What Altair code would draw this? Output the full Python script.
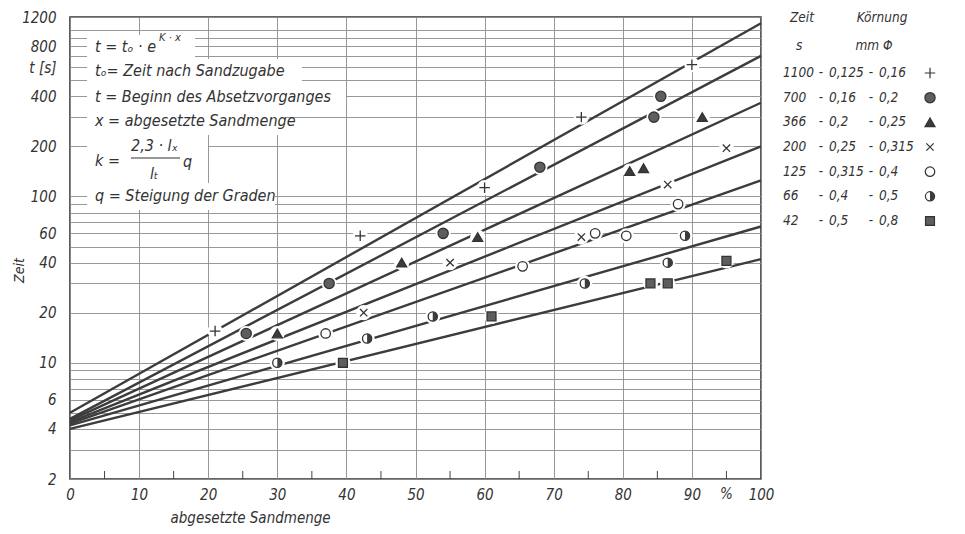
import altair as alt
import pandas as pd

# ---------------- data ----------------
series = ["1100", "700", "366", "200", "125", "66", "42"]
zeit = [1100, 700, 366, 200, 125, 66, 42]
korn_lo = ["0,125", "0,16", "0,2", "0,25", "0,315", "0,4", "0,5"]
korn_hi = ["0,16", "0,2", "0,25", "0,315", "0,4", "0,5", "0,8"]

# regression lines: value at x = 0 and at x = 100
line_t0 = [5.0, 4.6, 4.5, 4.4, 4.3, 4.2, 4.0]
line_t100 = [1100, 700, 366, 200, 125, 66, 42]

# measured points per series
pts_x = {
    "1100": [21, 42, 60, 74, 90],
    "700": [25.5, 37.5, 54, 68, 84.5, 85.5],
    "366": [30, 48, 59, 81, 83, 91.5],
    "200": [42.5, 55, 74, 86.5, 95],
    "125": [37, 65.5, 76, 80.5, 88],
    "66": [30, 43, 52.5, 74.5, 86.5, 89],
    "42": [39.5, 61, 84, 86.5, 95],
}
pts_t = {
    "1100": [15.5, 58, 113, 300, 620],
    "700": [15, 30, 60, 150, 300, 400],
    "366": [15, 40, 57, 142, 148, 300],
    "200": [20, 40, 57, 118, 195],
    "125": [15, 38, 60, 58, 90],
    "66": [10, 14, 19, 30, 40, 58],
    "42": [10, 19, 30, 30, 41],
}

x_ticks = [0, 10, 20, 30, 40, 50, 60, 70, 80, 90, 100]
x_minor = [5, 15, 25, 35, 45, 55, 65, 75, 85, 95]
y_grid = [2, 3, 4, 5, 6, 7, 8, 9, 10, 20, 30, 40, 50, 60, 70, 80, 90,
          100, 200, 300, 400, 500, 600, 700, 800, 900, 1000, 1200]
y_labels = [2, 4, 6, 10, 20, 40, 60, 100, 200, 400, 600, 800, 1200]

# ---------------- tables ----------------
lines_df = pd.DataFrame(
    [{"series": s, "x": 0, "t": a} for s, a in zip(series, line_t0)]
    + [{"series": s, "x": 100, "t": b} for s, b in zip(series, line_t100)]
)
pts_df = pd.DataFrame(
    [{"series": s, "x": x, "t": t} for s in series for x, t in zip(pts_x[s], pts_t[s])]
)
legend_df = pd.DataFrame({
    "row": list(range(len(series))), "series": series,
    "zeit": [str(z) for z in zeit], "lo": korn_lo, "hi": korn_hi,
})

W, H = 691, 462
FONT = "DejaVu Sans Condensed"
INK = "#333333"

xs = alt.Scale(domain=[0, 100], nice=False, zero=False)
ys = alt.Scale(type="log", domain=[2, 1200], nice=False)
rowscale = alt.Scale(domain=[0, 6], range=[56, 204])

PLUS = "M-1,0L1,0M0,-1L0,1"
CROSS = "M-0.75,-0.75L0.75,0.75M0.75,-0.75L-0.75,0.75"
HALF = "M0,-1A1,1,0,0,1,0,1Z"
shape_scale = alt.Scale(domain=series, range=[PLUS, "circle", "triangle-up", CROSS, "circle", "circle", "square"])
fill_scale = alt.Scale(domain=series, range=["transparent", "#5e5e5e", "#3c3c3c", "transparent", "white", "white", "#5e5e5e"])
size_scale = alt.Scale(domain=series, range=[110, 80, 80, 80, 90, 90, 80])

label_list = ",".join(str(v) for v in y_labels)
y_label_expr = (f"indexof([{label_list}], datum.value) >= 0 ? "
                "(datum.value == 600 ? 't [s]' : format(datum.value, 'd')) : ''")

X_ENC = alt.X("x:Q", scale=xs, axis=alt.Axis(
    values=x_ticks, grid=True, ticks=False, domain=False, labelFlush=False,
    labelPadding=8, labelFontSize=15, labelFont=FONT, labelFontStyle="italic",
    labelColor=INK, title="abgesetzte Sandmenge", titleFont=FONT,
    titleFontStyle="italic", titleFontWeight="normal", titleFontSize=15,
    titleColor=INK, titleAnchor="start", titleAlign="left", titleX=100, titleY=31,
    gridColor="#8c8c8c", gridWidth=0.9))

lines = alt.Chart(lines_df).mark_line(color="#3c3c3c", strokeWidth=2.4).encode(
    x=X_ENC,
    y=alt.Y("t:Q", scale=ys, axis=alt.Axis(
        values=y_grid, grid=True, ticks=False, domain=False, labelFlush=False,
        labelOverlap=False, labelExpr=y_label_expr, labelPadding=14,
        labelFontSize=15, labelFont=FONT, labelFontStyle="italic", labelColor=INK,
        title="Zeit", titleFont=FONT, titleFontStyle="italic", titleFontWeight="normal",
        titleFontSize=14, titleColor=INK, titleX=-44, titleY=253,
        gridColor="#8c8c8c", gridWidth=0.9)),
    detail="series:N",
)

halo = alt.Chart(pts_df).mark_point(filled=True, color="white", opacity=1, size=230).encode(
    x=X_ENC, y=alt.Y("t:Q", scale=ys, axis=None))

points = alt.Chart(pts_df).mark_point(opacity=1, strokeWidth=1.3, stroke="#333").encode(
    x=X_ENC, y=alt.Y("t:Q", scale=ys, axis=None),
    shape=alt.Shape("series:N", scale=shape_scale, legend=None),
    fill=alt.Fill("series:N", scale=fill_scale, legend=None),
    size=alt.Size("series:N", scale=size_scale, legend=None),
)
half = alt.Chart(pts_df).transform_filter(alt.datum.series == "66").mark_point(
    shape=HALF, filled=True, color="#3c3c3c", opacity=1, size=90).encode(
    x=X_ENC, y=alt.Y("t:Q", scale=ys, axis=None))

minor = alt.Chart(pd.DataFrame({"x": x_minor})).mark_rule(color="#444", strokeWidth=1).encode(
    x=X_ENC, y=alt.value(H), y2=alt.value(H - 8))

pct = alt.Chart(pd.DataFrame({"x": [95]})).mark_text(
    text="%", font=FONT, fontStyle="italic", fontSize=15, color=INK, baseline="top").encode(
    x=X_ENC, y=alt.value(H + 8))

one = pd.DataFrame({"a": [0]})

def wbox(x1, x2, y1, y2):
    return alt.Chart(one).mark_rect(color="white").encode(
        x=alt.value(x1), x2=alt.value(x2), y=alt.value(y1), y2=alt.value(y2))

def txt(s, x, y, size=16, align="left"):
    return alt.Chart(one).mark_text(text=s, font=FONT, fontStyle="italic", fontSize=size,
                                    color=INK, align=align, baseline="middle").encode(
        x=alt.value(x), y=alt.value(y))

ann = [
    wbox(17, 125, 18, 42), wbox(17, 232, 42, 67), wbox(17, 276, 67, 92),
    wbox(17, 215, 92, 118), wbox(17, 138, 118, 166), wbox(17, 205, 166, 193),
    txt("t = tₒ · e", 25, 30), txt("K · x", 89, 21, size=11),
    txt("tₒ= Zeit nach Sandzugabe", 25, 54),
    txt("t = Beginn des Absetzvorganges", 25, 80),
    txt("x = abgesetzte Sandmenge", 25, 104),
    txt("k =", 25, 144), txt("2,3 · lₓ", 61, 129), txt("lₜ", 80, 157), txt("q", 113, 145),
    alt.Chart(one).mark_rule(color=INK, strokeWidth=1.2).encode(
        x=alt.value(61), x2=alt.value(110), y=alt.value(141)),
    txt("q = Steigung der Graden", 25, 179),
]

# legend on the right
LS = 13.5
def leg_col(field, x, align="left"):
    return alt.Chart(legend_df).mark_text(font=FONT, fontStyle="italic", fontSize=LS,
                                          color=INK, align=align, baseline="middle").encode(
        x=alt.value(x), y=alt.Y("row:Q", scale=rowscale, axis=None), text=f"{field}:N")

dash = alt.Chart(legend_df).mark_text(text="-", font=FONT, fontSize=LS, color=INK,
                                      baseline="middle")
legend_layers = [
    txt("Zeit", 720, 1, size=LS), txt("Körnung", 812, 1, size=LS, align="center"),
    txt("s", 726, 29, size=LS), txt("mm Φ", 804, 29, size=LS, align="center"),
    leg_col("zeit", 713),
    dash.encode(x=alt.value(751), y=alt.Y("row:Q", scale=rowscale, axis=None)),
    leg_col("lo", 759),
    dash.encode(x=alt.value(801), y=alt.Y("row:Q", scale=rowscale, axis=None)),
    leg_col("hi", 809),
    alt.Chart(legend_df).mark_point(opacity=1, strokeWidth=1.2, stroke="#333").encode(
        x=alt.value(860), y=alt.Y("row:Q", scale=rowscale, axis=None),
        shape=alt.Shape("series:N", scale=shape_scale, legend=None),
        fill=alt.Fill("series:N", scale=fill_scale, legend=None),
        size=alt.Size("series:N", scale=size_scale, legend=None)),
    alt.Chart(legend_df).transform_filter(alt.datum.series == "66").mark_point(
        shape=HALF, filled=True, color="#3c3c3c", opacity=1, size=90).encode(
        x=alt.value(860), y=alt.Y("row:Q", scale=rowscale, axis=None)),
]

chart = alt.layer(lines, *ann, minor, pct, halo, points, half, *legend_layers).resolve_scale(
    y="independent"
).properties(
    width=W, height=H,
    autosize=alt.AutoSizeParams(type="none"),
    padding={"left": 62, "top": 9, "right": 190, "bottom": 52},
).configure_view(stroke="#333", strokeWidth=1.6)

chart.save("out.html", embed_options={"renderer": "svg", "actions": False})
